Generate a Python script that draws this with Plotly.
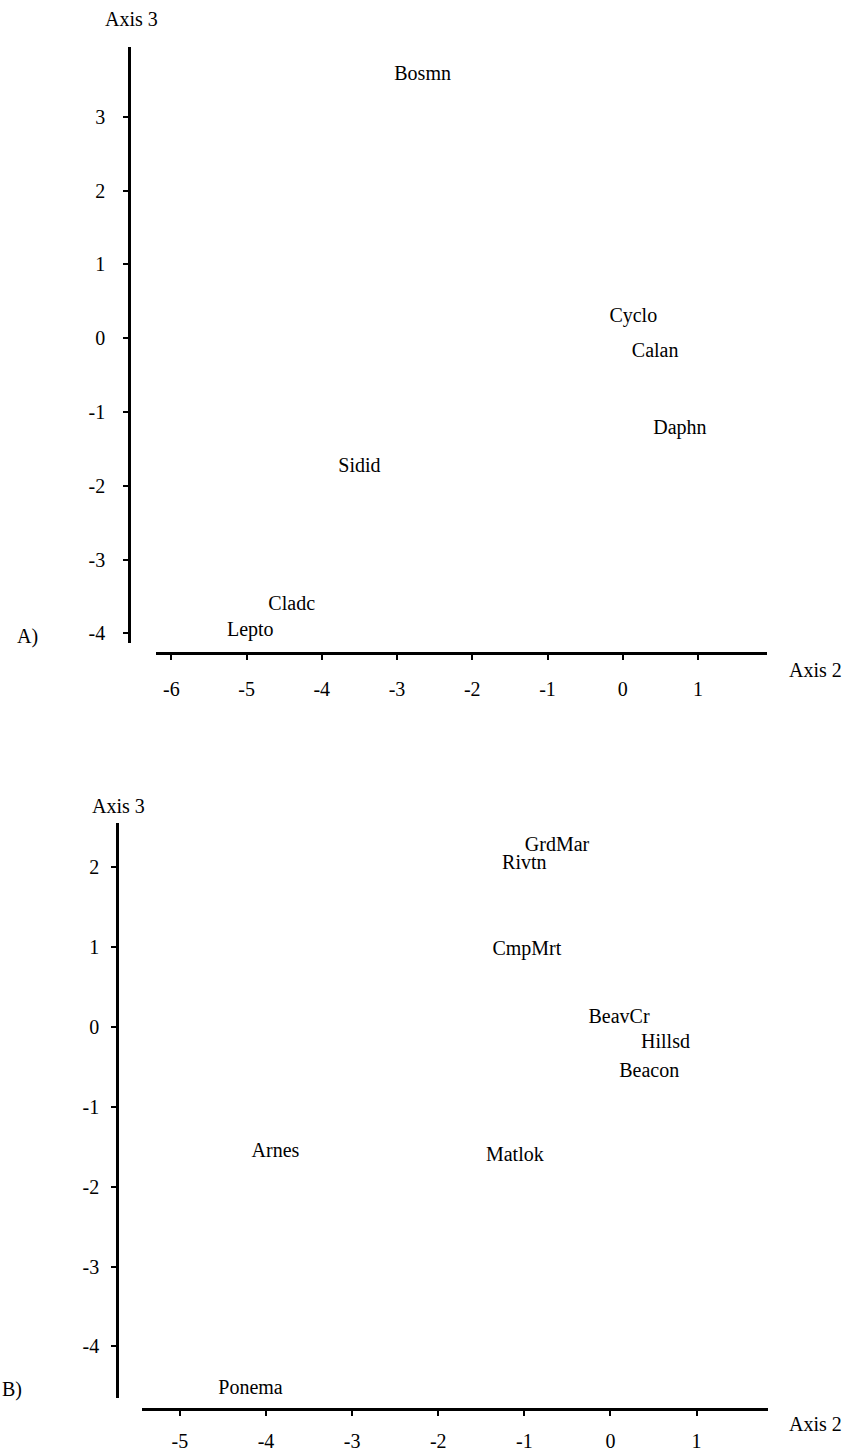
import plotly.graph_objects as go

# Panel A: species scores
species = ["Bosmn", "Cyclo", "Calan", "Daphn", "Sidid", "Cladc", "Lepto"]
species_axis2 = [-2.66, 0.14, 0.43, 0.76, -3.50, -4.40, -4.95]
species_axis3 = [3.57, 0.29, -0.18, -1.23, -1.74, -3.62, -3.96]

# Panel B: site scores
sites = ["GrdMar", "Rivtn", "CmpMrt", "BeavCr", "Hillsd", "Beacon", "Arnes", "Matlok", "Ponema"]
sites_axis2 = [-0.62, -1.00, -0.97, 0.10, 0.64, 0.45, -3.89, -1.11, -4.18]
sites_axis3 = [2.27, 2.04, 0.97, 0.11, -0.20, -0.56, -1.57, -1.62, -4.53]

xticks_a = [-6, -5, -4, -3, -2, -1, 0, 1]
yticks_a = [-4, -3, -2, -1, 0, 1, 2, 3]
xticks_b = [-5, -4, -3, -2, -1, 0, 1]
yticks_b = [-4, -3, -2, -1, 0, 1, 2]

W, H = 845, 1452
FONT = "Liberation Serif"
FS = 20


def px(v):
    return v / W


def py(v):
    return 1 - v / H


def labels(vals):
    return [str(v) for v in vals]  # plain hyphen-minus like the original


fig = go.Figure()
fig.add_trace(go.Scatter(
    x=species_axis2, y=species_axis3, text=species, mode="text",
    textfont=dict(family=FONT, size=FS, color="black"),
    xaxis="x", yaxis="y", hoverinfo="text", cliponaxis=False, showlegend=False))
fig.add_trace(go.Scatter(
    x=sites_axis2, y=sites_axis3, text=sites, mode="text",
    textfont=dict(family=FONT, size=FS, color="black"),
    xaxis="x2", yaxis="y2", hoverinfo="text", cliponaxis=False, showlegend=False))

axis_common = dict(showline=True, linecolor="black", linewidth=2.5, ticks="outside",
                   ticklen=5, tickwidth=2, tickcolor="black", showgrid=False,
                   zeroline=False, tickfont=dict(family=FONT, size=FS, color="black"),
                   anchor="free", fixedrange=True, tickmode="array")

fig.update_layout(
    width=W, height=H, margin=dict(l=0, r=0, t=0, b=0),
    paper_bgcolor="white", plot_bgcolor="white",
    xaxis=dict(domain=[px(155.5), px(766.5)], range=[-6.21, 1.91],
               tickvals=xticks_a, ticktext=labels(xticks_a),
               position=py(658), ticklabelstandoff=12, **axis_common),
    yaxis=dict(domain=[py(648), py(47)], range=[-4.13, 3.95],
               tickvals=yticks_a, ticktext=labels(yticks_a),
               position=px(129), ticklabelstandoff=14, **axis_common),
    xaxis2=dict(domain=[px(142), px(768)], range=[-5.44, 1.83],
                tickvals=xticks_b, ticktext=labels(xticks_b),
                position=py(1420), ticklabelstandoff=8, **axis_common),
    yaxis2=dict(domain=[py(1409), py(829)], range=[-4.65, 2.56],
                tickvals=yticks_b, ticktext=labels(yticks_b),
                position=px(117), ticklabelstandoff=8, **axis_common),
)

ann_font = dict(family=FONT, size=FS, color="black")
annotations = [
    ("Axis 3", 131, 19), ("Axis 2", 815, 675), ("A)", 27, 641),
    ("Axis 3", 118, 812), ("Axis 2", 815, 1435), ("B)", 12, 1400),
]
for txt, ax, ay in annotations:
    fig.add_annotation(text=txt, x=px(ax), y=py(ay), xref="paper", yref="paper",
                       showarrow=False, font=ann_font, xanchor="center", yanchor="middle")

fig.write_html("out.html")
